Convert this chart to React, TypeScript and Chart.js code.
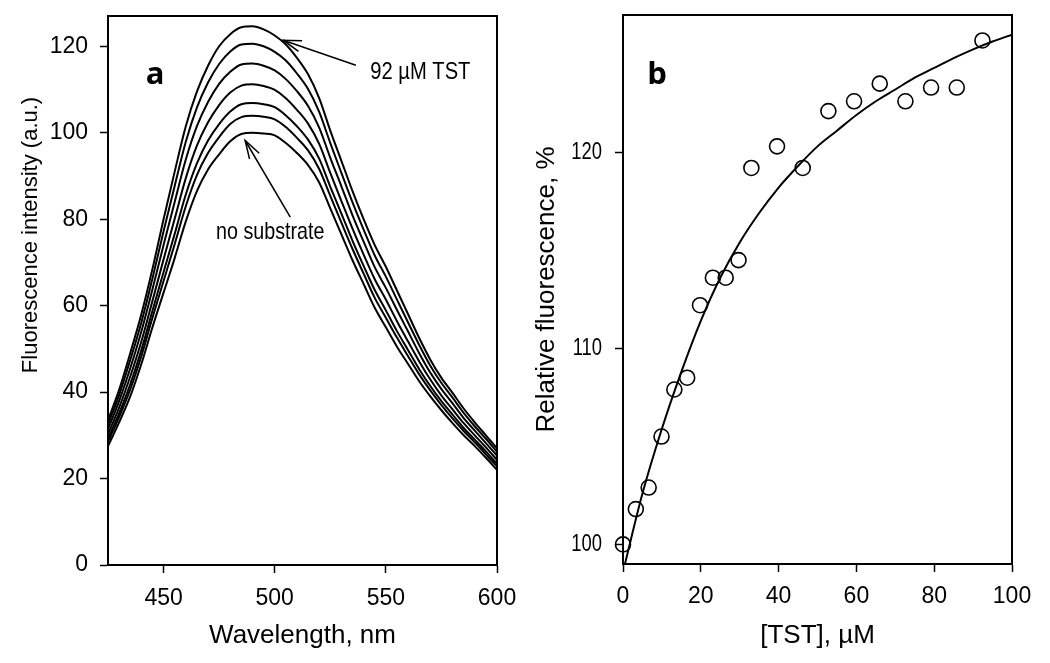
import React, { useEffect, useRef } from "react";
import { Chart, registerables } from "chart.js";
Chart.register(...registerables);

// ---------- Panel a: emission spectra ----------
const wavelengths = [425, 430, 435, 440, 445, 450, 455, 460, 465, 470, 475, 480, 485, 490, 495, 500, 505, 510, 515, 520, 525, 530, 535, 540, 545, 550, 555, 560, 565, 570, 575, 580, 585, 590, 595, 600];
const noSubstrate = [27.5, 33, 39, 46.5, 55, 63, 71, 79.5, 86.5, 91.5, 95, 98, 99.7, 100, 99.8, 99.4, 97.6, 95.3, 92.5, 88.5, 82.5, 76.5, 70.5, 65, 59.5, 55, 50.5, 46.5, 42.5, 39, 35.8, 32.8, 30, 27.5, 24.8, 22];
const spectrum2 = [28.5, 34.2, 40.6, 48.3, 57.2, 65.7, 74.2, 83, 90.2, 95.3, 99, 102, 103.6, 103.9, 103.7, 103.1, 101.3, 98.8, 95.9, 91.6, 85.4, 79.2, 73.1, 67.4, 61.8, 57.2, 52.6, 48.3, 44.1, 40.4, 37, 33.9, 31, 28.4, 25.6, 22.8];
const spectrum3 = [29.2, 35.1, 41.8, 49.7, 58.8, 67.8, 76.6, 85.7, 92.9, 98.2, 102, 104.9, 106.6, 106.9, 106.6, 105.9, 104, 101.5, 98.4, 94, 87.5, 81.3, 75, 69.2, 63.6, 58.9, 54.1, 49.7, 45.3, 41.4, 37.9, 34.8, 31.7, 29, 26.3, 23.4];
const spectrum4 = [30.2, 36.4, 43.6, 51.7, 61.1, 70.7, 80.1, 89.5, 97, 102.4, 106.4, 109.3, 110.9, 111.2, 110.8, 109.9, 108, 105.3, 102.1, 97.4, 90.7, 84.2, 77.8, 71.8, 66.1, 61.4, 56.4, 51.7, 47.1, 42.9, 39.2, 36, 32.8, 30, 27.2, 24.3];
const spectrum5 = [31.4, 37.9, 45.5, 54, 63.8, 74, 84, 93.8, 101.5, 107.1, 111.3, 114.1, 115.8, 116, 115.5, 114.4, 112.4, 109.6, 106.2, 101.2, 94.2, 87.6, 80.9, 74.8, 68.9, 64.1, 59, 54, 49, 44.5, 40.7, 37.4, 34, 31.1, 28.2, 25.3];
const spectrum6 = [32.5, 39.3, 47.4, 56.1, 66.3, 77.2, 87.7, 97.9, 105.8, 111.6, 115.9, 118.8, 120.4, 120.6, 120, 118.7, 116.7, 113.7, 110.1, 104.8, 97.6, 90.7, 83.9, 77.6, 71.6, 66.7, 61.4, 56.1, 50.9, 46.1, 42.1, 38.7, 35.2, 32.1, 29.2, 26.2];
const tst92 = [33.5, 40.5, 49, 58, 68.5, 80, 91, 101.5, 109.5, 115.5, 120, 122.8, 124.4, 124.6, 123.9, 122.5, 120.4, 117.3, 113.5, 108, 100.5, 93.5, 86.5, 80, 74, 69, 63.5, 58, 52.5, 47.5, 43.3, 39.8, 36.2, 33, 30, 27];
const spectra = [noSubstrate, spectrum2, spectrum3, spectrum4, spectrum5, spectrum6, tst92];
const aTicksX = [450, 500, 550, 600];
const aTicksY = [0, 20, 40, 60, 80, 100, 120];

// ---------- Panel b: titration ----------
const tstConc = [0, 3.3, 6.6, 9.9, 13.2, 16.5, 19.8, 23.1, 26.4, 29.7, 33, 39.6, 46.2, 52.8, 59.4, 66, 72.6, 79.2, 85.8, 92.4];
const relFluor = [100.0, 101.8, 102.9, 105.5, 107.9, 108.5, 112.2, 113.6, 113.6, 114.5, 119.2, 120.3, 119.2, 122.1, 122.6, 123.5, 122.6, 123.3, 123.3, 125.7];
const fitConc = [0, 5, 10, 15, 20, 25, 30, 35, 40, 45, 50, 55, 60, 65, 70, 75, 80, 85, 90, 95, 100];
const fitValues = [98.6, 102.6, 105.9, 108.8, 111.4, 113.6, 115.4, 116.9, 118.2, 119.3, 120.3, 121.1, 121.9, 122.6, 123.2, 123.8, 124.3, 124.8, 125.25, 125.65, 126.0];
const bTicksX = [0, 20, 40, 60, 80, 100];
const bTicksY = [100, 110, 120];

const SANS = "'Liberation Sans', Arial, sans-serif";

const framePlugin = {
  id: "frame",
  afterDatasetsDraw(chart: any) {
    const { ctx, chartArea } = chart;
    ctx.save();
    ctx.strokeStyle = "#000";
    ctx.lineWidth = 2;
    ctx.strokeRect(chartArea.left, chartArea.top, chartArea.right - chartArea.left, chartArea.bottom - chartArea.top);
    ctx.restore();
  },
};

function drawArrow(ctx: CanvasRenderingContext2D, x1: number, y1: number, x2: number, y2: number) {
  ctx.beginPath();
  ctx.moveTo(x1, y1);
  ctx.lineTo(x2, y2);
  ctx.stroke();
  const ang = Math.atan2(y1 - y2, x1 - x2);
  const len = 19;
  const spread = 0.3;
  ctx.beginPath();
  ctx.moveTo(x2 + len * Math.cos(ang + spread), y2 + len * Math.sin(ang + spread));
  ctx.lineTo(x2, y2);
  ctx.lineTo(x2 + len * Math.cos(ang - spread), y2 + len * Math.sin(ang - spread));
  ctx.stroke();
}

// draws free texts (optionally horizontally condensed), arrows and condensed y tick labels
const annotationPlugin = {
  id: "annot",
  afterDraw(chart: any, _args: any, opts: any) {
    const { ctx } = chart;
    const xs = chart.scales.x;
    const ys = chart.scales.y;
    ctx.save();
    ctx.fillStyle = "#000";
    ctx.strokeStyle = "#000";
    ctx.lineWidth = 1.5;
    const texts = [...(opts.texts || [])];
    if (opts.yLabels) {
      const yl = opts.yLabels;
      yl.values.forEach((v: number) => {
        texts.push({ text: String(v), x: chart.chartArea.left - yl.offset, y: ys.getPixelForValue(v), align: "right", font: yl.font, sx: yl.sx });
      });
    }
    texts.forEach((t: any) => {
      ctx.font = t.font;
      ctx.textAlign = t.align || "center";
      ctx.textBaseline = "middle";
      const px = t.data ? xs.getPixelForValue(t.x) : t.x;
      const py = t.data ? ys.getPixelForValue(t.y) : t.y;
      ctx.save();
      ctx.translate(px, py);
      if (t.rotate) ctx.rotate(t.rotate);
      if (t.sx) ctx.scale(t.sx, 1);
      ctx.fillText(t.text, 0, 0);
      ctx.restore();
    });
    (opts.arrows || []).forEach((a: any) => {
      drawArrow(ctx, xs.getPixelForValue(a.x1), ys.getPixelForValue(a.y1), xs.getPixelForValue(a.x2), ys.getPixelForValue(a.y2));
    });
    ctx.restore();
  },
};

function axisBase(ticks: number[], tickLen: number, pad: number, font: any, color = "#000") {
  return {
    type: "linear" as const,
    afterBuildTicks: (scale: any) => {
      scale.ticks = ticks.map((v) => ({ value: v }));
    },
    grid: { display: true, drawOnChartArea: false, drawTicks: true, tickLength: tickLen, tickWidth: 1.5, tickColor: "#000" },
    border: { display: true, color: "#000", width: 2 },
    ticks: { color, font, padding: pad, maxRotation: 0, autoSkip: false },
  };
}

function fixSize(w: number | null, h: number | null) {
  return (s: any) => {
    if (w !== null) s.width = w;
    if (h !== null) s.height = h;
    s.paddingTop = 0;
    s.paddingBottom = 0;
    s.paddingLeft = 0;
    s.paddingRight = 0;
  };
}

function PanelA() {
  const ref = useRef<HTMLCanvasElement>(null);
  useEffect(() => {
    const datasets = spectra.map((s) => ({
      data: wavelengths.map((w, i) => ({ x: w, y: s[i] })),
      borderColor: "#000",
      borderWidth: 2,
      pointRadius: 0,
      cubicInterpolationMode: "monotone" as const,
      fill: false,
    }));
    const chart = new Chart(ref.current!, {
      type: "line",
      data: { datasets },
      plugins: [framePlugin, annotationPlugin],
      options: {
        responsive: false,
        animation: false,
        events: [],
        layout: { padding: { left: 0, right: 28, top: 16, bottom: 0 } },
        plugins: {
          legend: { display: false },
          tooltip: { enabled: false },
          annot: {
            texts: [
              { text: "a", x: 155, y: 75, font: `bold 31px 'Open Sans', ${SANS}` },
              { text: "Fluorescence intensity (a.u.)", x: 31, y: 235, rotate: -Math.PI / 2, font: `22px ${SANS}` },
              { text: "92 µM TST", x: 543, y: 114, data: true, align: "left", font: `24px ${SANS}`, sx: 0.84 },
              { text: "no substrate", x: 498, y: 77, data: true, align: "center", font: `24px ${SANS}`, sx: 0.82 },
            ],
            arrows: [
              { x1: 536.5, y1: 115.6, x2: 503.8, y2: 121.4 },
              { x1: 507, y1: 80.5, x2: 486.7, y2: 98.2 },
            ],
          },
        } as any,
        scales: {
          x: {
            ...axisBase(aTicksX, 8, 12, { family: SANS, size: 23 }),
            min: 425,
            max: 600,
            afterFit: fixSize(null, 98),
            title: { display: true, text: "Wavelength, nm", color: "#000", font: { family: SANS, size: 26 }, padding: { top: 0, bottom: 12 } },
          },
          y: {
            ...axisBase(aTicksY, 8, 12, { family: SANS, size: 23 }),
            min: 0,
            max: 127,
            afterFit: fixSize(108, null),
          },
        } as any,
      },
    });
    return () => chart.destroy();
  }, []);
  return <canvas ref={ref} width={525} height={663} style={{ position: "absolute", left: 0, top: 0, display: "block" }} />;
}

function PanelB() {
  const ref = useRef<HTMLCanvasElement>(null);
  useEffect(() => {
    const chart = new Chart(ref.current!, {
      type: "scatter",
      data: {
        datasets: [
          {
            data: fitConc.map((c, i) => ({ x: c, y: fitValues[i] })),
            showLine: true,
            borderColor: "#000",
            borderWidth: 2,
            pointRadius: 0,
            cubicInterpolationMode: "monotone",
          } as any,
          {
            data: tstConc.map((c, i) => ({ x: c, y: relFluor[i] })),
            showLine: false,
            pointRadius: 7.5,
            pointBorderWidth: 1.6,
            pointBorderColor: "#000",
            pointBackgroundColor: "rgba(0,0,0,0)",
            clip: false,
          } as any,
        ],
      },
      plugins: [framePlugin, annotationPlugin],
      options: {
        responsive: false,
        animation: false,
        events: [],
        layout: { padding: { left: 0, right: 38, top: 15, bottom: 0 } },
        plugins: {
          legend: { display: false },
          tooltip: { enabled: false },
          annot: {
            texts: [{ text: "b", x: 132, y: 75, font: `bold 31px 'Open Sans', ${SANS}` }],
            arrows: [],
            yLabels: { values: bTicksY, offset: 21, font: `23px ${SANS}`, sx: 0.8 },
          },
        } as any,
        scales: {
          x: {
            ...axisBase(bTicksX, 8, 11, { family: SANS, size: 23 }),
            min: 0,
            max: 100,
            afterFit: fixSize(null, 99),
            title: { display: true, text: "[TST], µM", color: "#000", font: { family: SANS, size: 26 }, padding: { top: 0, bottom: 12 } },
          },
          y: {
            ...axisBase(bTicksY, 8, 12, { family: SANS, size: 22 }, "rgba(0,0,0,0)"),
            min: 99,
            max: 127,
            afterFit: fixSize(98, null),
            title: { display: true, text: "Relative fluorescence, %", color: "#000", font: { family: SANS, size: 26 }, padding: { top: 6, bottom: 0 } },
          },
        } as any,
      },
    });
    return () => chart.destroy();
  }, []);
  return <canvas ref={ref} width={525} height={663} style={{ position: "absolute", left: 525, top: 0, display: "block" }} />;
}

export default function App() {
  return (
    <div style={{ position: "fixed", left: 0, top: 0, width: 1050, height: 663, background: "#fff", overflow: "hidden" }}>
      <PanelA />
      <PanelB />
    </div>
  );
}
